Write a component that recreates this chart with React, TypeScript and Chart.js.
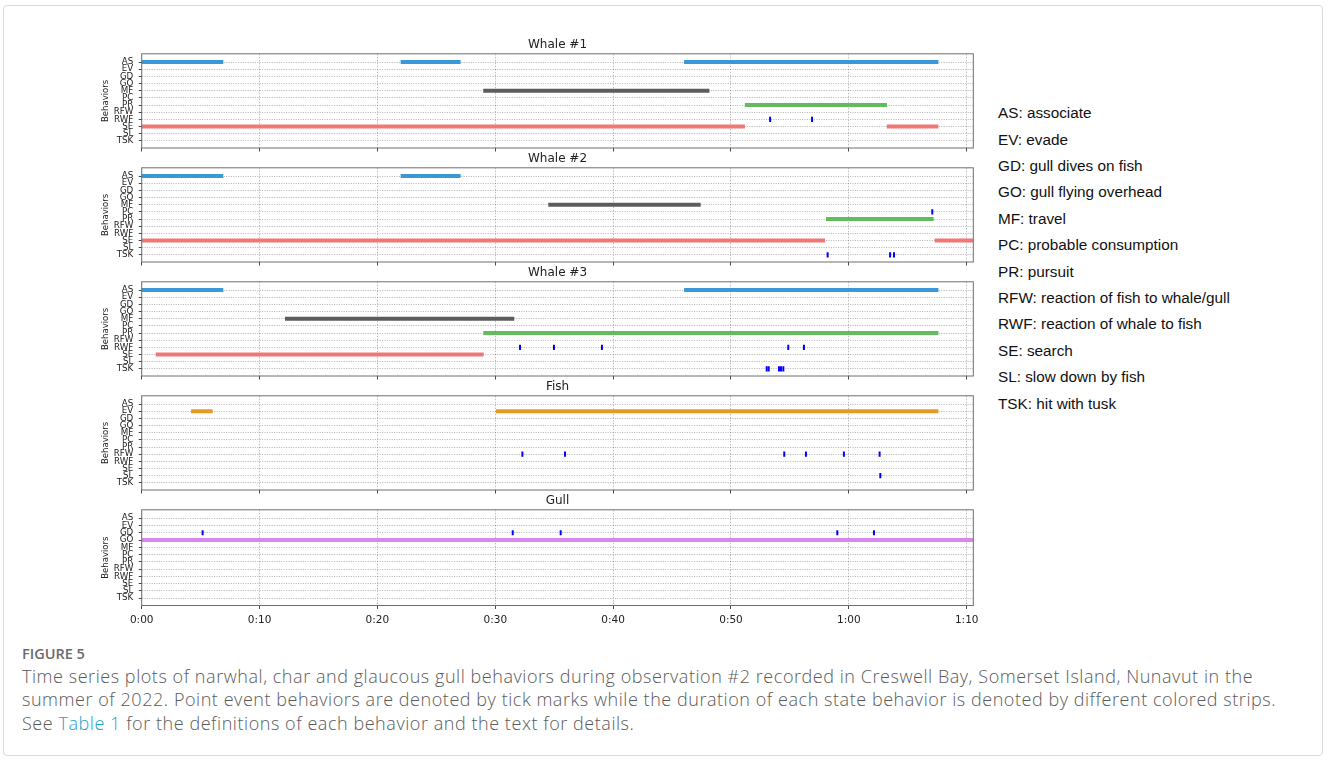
import React, { useEffect, useRef } from "react";
import { Chart, registerables } from "chart.js";

Chart.register(...registerables);

// ---------------- DATA ----------------
const BEHAVIORS = ["AS", "EV", "GD", "GO", "MF", "PC", "PR", "RFW", "RWF", "SE", "SL", "TSK"];
const BEHAVIOR_NAMES = [
  "associate",
  "evade",
  "gull dives on fish",
  "gull flying overhead",
  "travel",
  "probable consumption",
  "pursuit",
  "reaction of fish to whale/gull",
  "reaction of whale to fish",
  "search",
  "slow down by fish",
  "hit with tusk",
];
const X_TICKS = [0, 10, 20, 30, 40, 50, 60, 70]; // minutes
const X_MAX = 70.56;
const PANEL_TITLES = ["Whale #1", "Whale #2", "Whale #3", "Fish", "Gull"];

// state behaviours: [behavior, start (min), end (min)]
const WHALE1_STATES: [string, number, number][] = [
  ["AS", 0, 6.92], ["AS", 21.97, 27.06], ["AS", 46.02, 67.6],
  ["MF", 28.98, 48.17], ["PR", 51.18, 63.24],
  ["SE", 0, 51.18], ["SE", 63.22, 67.6],
];
// point events: [behavior, time (min)]
const WHALE1_EVENTS: [string, number][] = [["RWF", 53.32], ["RWF", 56.88]];

const WHALE2_STATES: [string, number, number][] = [
  ["AS", 0, 6.92], ["AS", 21.97, 27.06],
  ["MF", 34.5, 47.43], ["PR", 58.06, 67.2],
  ["SE", 0, 57.98], ["SE", 67.28, 70.56],
];
const WHALE2_EVENTS: [string, number][] = [["PC", 67.08], ["TSK", 58.2], ["TSK", 63.5], ["TSK", 63.83]];

const WHALE3_STATES: [string, number, number][] = [
  ["AS", 0, 6.92], ["AS", 46.02, 67.6],
  ["MF", 12.16, 31.61], ["PR", 28.98, 67.6],
  ["SE", 1.19, 29.01],
];
const WHALE3_EVENTS: [string, number][] = [
  ["RWF", 32.1], ["RWF", 34.98], ["RWF", 39.05], ["RWF", 54.86], ["RWF", 56.19],
  ["TSK", 53.03], ["TSK", 53.2], ["TSK", 54.07], ["TSK", 54.24], ["TSK", 54.44],
];

const FISH_STATES: [string, number, number][] = [["EV", 4.19, 6.02], ["EV", 30.06, 67.6]];
const FISH_EVENTS: [string, number][] = [
  ["RFW", 32.3], ["RFW", 35.92], ["RFW", 54.52], ["RFW", 56.36], ["RFW", 59.58], ["RFW", 62.61],
  ["SL", 62.67],
];

const GULL_STATES: [string, number, number][] = [["GO", 0, 70.56]];
const GULL_EVENTS: [string, number][] = [["GD", 5.17], ["GD", 31.48], ["GD", 35.55], ["GD", 59.02], ["GD", 62.13]];

const PANEL_STATES = [WHALE1_STATES, WHALE2_STATES, WHALE3_STATES, FISH_STATES, GULL_STATES];
const PANEL_EVENTS = [WHALE1_EVENTS, WHALE2_EVENTS, WHALE3_EVENTS, FISH_EVENTS, GULL_EVENTS];

// ---------------- STYLE ----------------
const STATE_COLORS: Record<string, string> = {
  AS: "#3a98d8",
  EV: "#e69a22",
  GO: "#d986ef",
  MF: "#5c5c5c",
  PR: "#63bc5b",
  SE: "#f17676",
};
const EVENT_COLOR = "#0000ff";
const FONT = "DejaVu Sans";

const PANEL_TOPS = [53.8, 167.8, 281.8, 395.8, 509.8];
const AREA_H = 95.7;
const TITLE_BOX = 18.5;
const CANVAS_LEFT = 90;
const AREA_LEFT = 141.7;
const AREA_RIGHT = 973.3;
const CANVAS_W = 906;

const framePlugin = {
  id: "frame",
  afterDraw(chart: any) {
    const { ctx, chartArea } = chart;
    ctx.save();
    ctx.strokeStyle = "#6e6e6e";
    ctx.lineWidth = 1;
    ctx.strokeRect(chartArea.left, chartArea.top, chartArea.right - chartArea.left, chartArea.bottom - chartArea.top);
    ctx.restore();
  },
};

function fmtTime(v: number) {
  const h = Math.floor(v / 60);
  const m = Math.round(v % 60);
  return `${h}:${String(m).padStart(2, "0")}`;
}

function Panel({ index }: { index: number }) {
  const ref = useRef<HTMLCanvasElement>(null);
  const last = index === PANEL_TITLES.length - 1;
  const pt = PANEL_TOPS[index];
  const xh = last ? 21 : 3.5;
  const canvasTop = Math.floor(pt - TITLE_BOX) - 1;
  const padTop = pt - TITLE_BOX - canvasTop;
  const bottomEdge = pt + AREA_H + xh;
  const canvasBottom = Math.ceil(bottomEdge) + 1;
  const padBottom = canvasBottom - bottomEdge;
  const canvasH = canvasBottom - canvasTop;

  useEffect(() => {
    const states = PANEL_STATES[index];
    const events = PANEL_EVENTS[index];
    const datasets: any[] = states.map(([b, s, e]) => ({
      data: [
        { x: s, y: BEHAVIORS.indexOf(b) },
        { x: e, y: BEHAVIORS.indexOf(b) },
      ],
      showLine: true,
      borderColor: STATE_COLORS[b],
      borderWidth: 4,
      borderCapStyle: "butt",
      pointRadius: 0,
      clip: 0,
    }));
    datasets.push({
      data: events.map(([b, t]) => ({ x: t, y: BEHAVIORS.indexOf(b) })),
      showLine: false,
      pointStyle: "line",
      pointRadius: 2.6,
      pointRotation: 90,
      pointBorderWidth: 2,
      pointBorderColor: EVENT_COLOR,
      borderColor: EVENT_COLOR,
      clip: 0,
    });

    const chart = new Chart(ref.current as HTMLCanvasElement, {
      type: "scatter",
      data: { datasets },
      options: {
        responsive: false,
        animation: false,
        layout: { padding: { left: 0, right: CANVAS_W - (AREA_RIGHT - CANVAS_LEFT), top: padTop, bottom: padBottom } },
        plugins: {
          legend: { display: false },
          tooltip: { enabled: false },
          title: {
            display: true,
            text: PANEL_TITLES[index],
            fullSize: false,
            color: "#222",
            font: { family: FONT, size: 12, weight: "normal" },
            padding: { top: 2.5, bottom: 1.6 },
          },
        },
        scales: {
          x: {
            type: "linear",
            min: 0,
            max: X_MAX,
            z: 1,
            afterBuildTicks: (s: any) => {
              s.ticks = X_TICKS.map((v) => ({ value: v }));
            },
            afterFit: (s: any) => {
              s.height = xh;
            },
            grid: {
              color: "rgba(0,0,0,0.32)",
              lineWidth: 0.8,
              tickLength: 3.5,
              tickColor: "#333",
              tickWidth: 0.9,
            },
            border: { display: false, dash: [1.5, 1.5] },
            ticks: {
              display: last,
              autoSkip: false,
              maxRotation: 0,
              padding: 5,
              color: "#222",
              font: { family: FONT, size: 10.5 },
              callback: (v: any) => fmtTime(Number(v)),
            },
          },
          y: {
            type: "linear",
            min: -1.155,
            max: 12.0,
            reverse: true,
            z: 1,
            afterBuildTicks: (s: any) => {
              s.ticks = BEHAVIORS.map((_, i) => ({ value: i }));
            },
            afterFit: (s: any) => {
              s.width = AREA_LEFT - CANVAS_LEFT;
              s.paddingTop = 0;
              s.paddingBottom = 0;
            },
            grid: {
              color: "rgba(0,0,0,0.32)",
              lineWidth: 0.8,
              tickLength: 3,
              tickColor: "#333",
              tickWidth: 0.9,
            },
            border: { display: false, dash: [1.2, 1.2] },
            title: {
              display: true,
              text: "Behaviors",
              color: "#222",
              font: { family: FONT, size: 8.5 },
              padding: { top: 10.6, bottom: 0 },
            },
            ticks: {
              autoSkip: false,
              padding: 5.4,
              color: "#222",
              font: { family: FONT, size: 8.7, lineHeight: 1 },
              callback: (v: any) => BEHAVIORS[Number(v)] ?? "",
            },
          },
        },
      } as any,
      plugins: [framePlugin],
    });
    return () => chart.destroy();
  }, [index]);

  return (
    <canvas
      ref={ref}
      width={CANVAS_W}
      height={canvasH}
      style={{ position: "absolute", left: CANVAS_LEFT, top: canvasTop, width: CANVAS_W, height: canvasH }}
    />
  );
}

export default function App() {
  return (
    <div style={{ position: "absolute", left: 0, top: 0, width: 1328, height: 762, background: "#fff", overflow: "hidden" }}>
      <div
        style={{
          position: "absolute",
          left: 3,
          top: 5,
          width: 1320,
          height: 751,
          border: "1px solid #dadada",
          borderRadius: 4,
          boxSizing: "border-box",
        }}
      />
      {PANEL_TITLES.map((_, i) => (
        <Panel key={i} index={i} />
      ))}
      <div
        style={{
          position: "absolute",
          left: 998,
          top: 100.1,
          fontFamily: "'Liberation Sans', Arial, sans-serif",
          fontSize: 15.3,
          lineHeight: "26.4px",
          color: "#111",
          whiteSpace: "nowrap",
        }}
      >
        {BEHAVIORS.map((b, i) => (
          <div key={b}>{`${b}: ${BEHAVIOR_NAMES[i]}`}</div>
        ))}
      </div>
      <div
        style={{
          position: "absolute",
          left: 22,
          top: 644,
          fontFamily: "'Open Sans', sans-serif",
          fontWeight: 600,
          fontSize: 14.5,
          lineHeight: "20px",
          color: "#6b6b6b",
        }}
      >
        FIGURE 5
      </div>
      <div
        style={{
          position: "absolute",
          left: 22,
          top: 664.5,
          fontFamily: "'Open Sans', sans-serif",
          fontWeight: 300,
          fontSize: 18,
          letterSpacing: "0.55px",
          lineHeight: "23.5px",
          color: "#5a5a5a",
          whiteSpace: "nowrap",
        }}
      >
        <div>
          Time series plots of narwhal, char and glaucous gull behaviors during observation #2 recorded in Creswell Bay, Somerset Island, Nunavut in the
        </div>
        <div>
          summer of 2022. Point event behaviors are denoted by tick marks while the duration of each state behavior is denoted by different colored strips.
        </div>
        <div>
          See <span style={{ color: "#1aa3c8" }}>Table 1</span> for the definitions of each behavior and the text for details.
        </div>
      </div>
    </div>
  );
}
